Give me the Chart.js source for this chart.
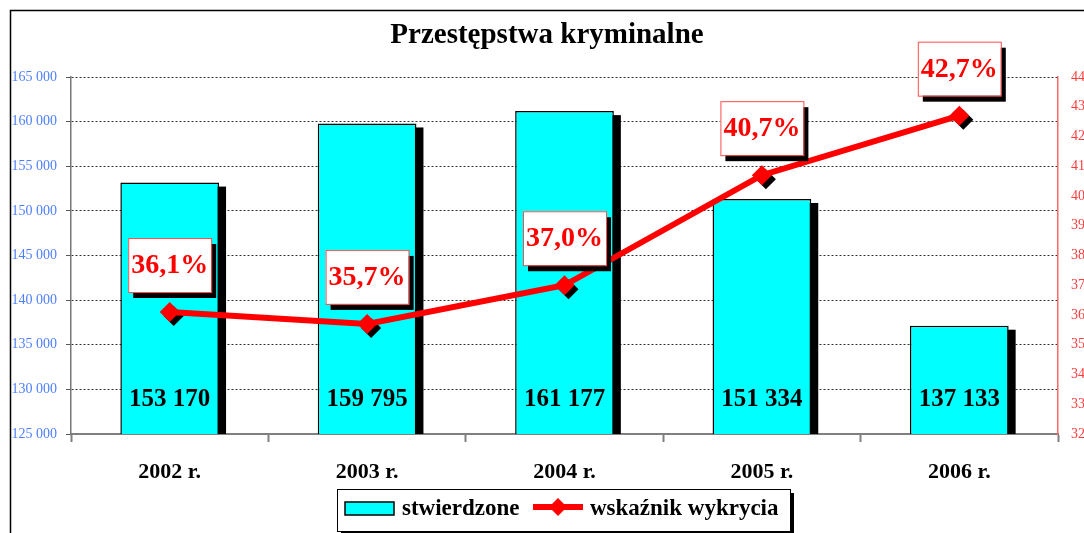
<!DOCTYPE html>
<html>
<head>
<meta charset="utf-8">
<script src="https://cdn.jsdelivr.net/npm/chart.js@4.4.1/dist/chart.umd.min.js"></script>
<style>
    html, body { margin: 0; padding: 0; background: #fff; }
</style>
</head>
<body>
<canvas id="crimeChart" width="1084" height="533"></canvas>
<script>
const years = ['2002 r.', '2003 r.', '2004 r.', '2005 r.', '2006 r.'];
const recorded = [153170, 159795, 161177, 151334, 137133];
const detectionRate = [36.1, 35.7, 37.0, 40.7, 42.7];

const SERIF = "'Liberation Serif', 'DejaVu Serif', serif";

// "153170" -> "153 170"
function spaced(v) {
    return String(v).replace(/\B(?=(\d{3})+(?!\d))/g, ' ');
}

// 36.1 -> "36,1%"
function percent(v) {
    return v.toFixed(1).replace('.', ',') + '%';
}

function diamond(ctx, x, y, r) {
    ctx.beginPath();
    ctx.moveTo(x, y - r);
    ctx.lineTo(x + r, y);
    ctx.lineTo(x, y + r);
    ctx.lineTo(x - r, y);
    ctx.closePath();
    ctx.fill();
}

/**
 * Frame, shadows, value boxes and the legend
 */
const decorPlugin = {
    id: 'decor',
    beforeDraw(chart) {
        const ctx = chart.ctx;
        ctx.save();
        ctx.strokeStyle = '#000';
        ctx.lineWidth = 1.5;
        ctx.strokeRect(10.5, 10.5, 1200, 700);
        ctx.restore();
    },
    beforeDatasetDraw(chart, args) {
        const ctx = chart.ctx;
        const area = chart.chartArea;
        const meta = args.meta;
        ctx.save();
        ctx.fillStyle = '#000';
        if (meta.type === 'bar') {
            ctx.beginPath();
            ctx.rect(area.left, area.top - 30, area.width, area.bottom - area.top + 30);
            ctx.clip();
            meta.data.forEach(bar => {
                const p = bar.getProps(['x', 'y', 'base', 'width'], true);
                ctx.fillRect(p.x - p.width / 2 + 7, p.y + 4, p.width, p.base - p.y);
            });
        } else if (meta.type === 'line') {
            meta.data.forEach(pt => diamond(ctx, pt.x + 4, pt.y + 4, 10));
        }
        ctx.restore();
    },
    afterDatasetsDraw(chart) {
        const ctx = chart.ctx;
        const area = chart.chartArea;
        ctx.save();
        ctx.textAlign = 'center';
        ctx.textBaseline = 'middle';

        // bar values
        const bars = chart.getDatasetMeta(0);
        ctx.fillStyle = '#000';
        ctx.font = 'bold 25px ' + SERIF;
        bars.data.forEach((bar, i) => {
            ctx.fillText(spaced(recorded[i]), bar.x, area.bottom - 34);
        });

        // rate boxes
        const pts = chart.getDatasetMeta(1);
        const w = 83, h = 54;
        ctx.font = 'bold 28px ' + SERIF;
        pts.data.forEach((pt, i) => {
            const cx = pt.x, cy = pt.y - 47;
            ctx.fillStyle = '#000';
            ctx.fillRect(cx - w / 2 + 5, cy - h / 2 + 6, w, h);
            ctx.fillStyle = '#fff';
            ctx.fillRect(cx - w / 2, cy - h / 2, w, h);
            ctx.strokeStyle = '#ff4d4d';
            ctx.lineWidth = 1;
            ctx.strokeRect(cx - w / 2 + 0.5, cy - h / 2 + 0.5, w, h);
            ctx.fillStyle = '#ff0000';
            ctx.fillText(percent(detectionRate[i]), cx, cy + 1);
        });
        ctx.restore();
    },
    afterDraw(chart) {
        const ctx = chart.ctx;
        const lx = 337, ly = 489, lw = 453, lh = 42;
        ctx.save();
        ctx.fillStyle = '#000';
        ctx.fillRect(lx + 4, ly + 4, lw, lh);
        ctx.fillStyle = '#fff';
        ctx.fillRect(lx, ly, lw, lh);
        ctx.strokeStyle = '#000';
        ctx.lineWidth = 1;
        ctx.strokeRect(lx + 0.5, ly + 0.5, lw, lh);

        // bar swatch
        ctx.fillStyle = '#00ffff';
        ctx.fillRect(lx + 8, ly + 13, 49, 13);
        ctx.lineWidth = 1.5;
        ctx.strokeRect(lx + 8, ly + 13, 49, 13);

        ctx.fillStyle = '#000';
        ctx.font = 'bold 23px ' + SERIF;
        ctx.textBaseline = 'middle';
        ctx.fillText('stwierdzone', lx + 65, ly + 20);

        // line swatch
        ctx.strokeStyle = '#ff0000';
        ctx.lineWidth = 6;
        ctx.beginPath();
        ctx.moveTo(lx + 196, ly + 18);
        ctx.lineTo(lx + 246, ly + 18);
        ctx.stroke();
        ctx.fillStyle = '#ff0000';
        diamond(ctx, lx + 221, ly + 18, 9);

        ctx.fillStyle = '#000';
        ctx.fillText('wskaźnik wykrycia', lx + 253, ly + 20);
        ctx.restore();
    }
};

new Chart(document.getElementById('crimeChart'), {
    type: 'bar',
    data: {
        labels: years,
        datasets: [{
            type: 'bar',
            label: 'stwierdzone',
            data: recorded,
            backgroundColor: '#00ffff',
            borderColor: '#000',
            borderWidth: 1.5,
            borderSkipped: false,
            categoryPercentage: 1,
            barPercentage: 0.5,
            yAxisID: 'y',
            order: 2
        }, {
            type: 'line',
            label: 'wskaźnik wykrycia',
            data: detectionRate,
            borderColor: '#ff0000',
            borderWidth: 6,
            tension: 0,
            pointStyle: 'rectRot',
            pointRadius: 10,
            pointBackgroundColor: '#ff0000',
            pointBorderWidth: 0,
            yAxisID: 'y1',
            order: 1
        }]
    },
    options: {
        responsive: false,
        animation: false,
        layout: {
            padding: { top: 18, left: 10, right: 0, bottom: 0 }
        },
        plugins: {
            legend: { display: false },
            tooltip: { enabled: false },
            title: {
                display: true,
                text: 'Przestępstwa kryminalne',
                color: '#000',
                font: { family: SERIF, size: 29, weight: 'bold', lineHeight: 1.2 },
                padding: { top: 0, bottom: 24.2 }
            }
        },
        scales: {
            x: {
                grid: {
                    drawOnChartArea: false,
                    offset: true,
                    tickLength: 8,
                    tickColor: '#808080',
                    tickWidth: 2
                },
                border: { color: '#808080', width: 2 },
                ticks: {
                    color: '#000',
                    font: { family: SERIF, size: 22, weight: 'bold' },
                    padding: 17
                },
                afterFit: s => { s.height = 99; }
            },
            y: {
                position: 'left',
                min: 125000,
                max: 165000,
                ticks: {
                    stepSize: 5000,
                    color: '#4d7fff',
                    font: { family: SERIF, size: 14 },
                    padding: 9,
                    callback: v => spaced(v)
                },
                grid: {
                    color: '#333',
                    lineWidth: 1,
                    tickLength: 5,
                    tickColor: '#555',
                    tickBorderDash: []
                },
                border: { color: '#777', width: 1.5, dash: [2, 2] },
                afterFit: s => { s.width = 61; }
            },
            y1: {
                position: 'right',
                min: 32,
                max: 44,
                ticks: {
                    stepSize: 1,
                    color: '#ff3b3b',
                    font: { family: SERIF, size: 14 },
                    padding: 13
                },
                grid: { drawOnChartArea: false, drawTicks: false },
                border: { color: '#ff6666', width: 1.5 },
                afterFit: s => { s.width = 26; }
            }
        }
    },
    plugins: [decorPlugin]
});
</script>
</body>
</html>
